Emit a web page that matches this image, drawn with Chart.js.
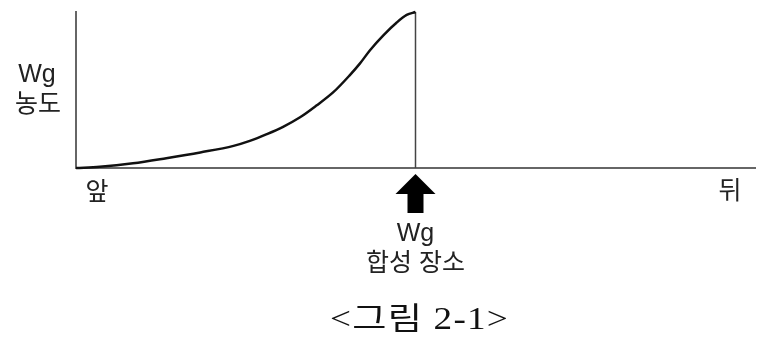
<!DOCTYPE html>
<html>
<head>
<meta charset="utf-8">
<script src="https://cdn.jsdelivr.net/npm/chart.js@4/dist/chart.umd.min.js"></script>
<style>
    html, body { margin: 0; padding: 0; background: #fff; }
    #wrap { width: 761px; height: 341px; position: relative; }
</style>
</head>
<body>
<div id="wrap"><canvas id="wg-chart" width="761" height="341"></canvas></div>
<script>
// position along the embryo (0 = 앞, 100 = 뒤) and Wg concentration
const curveX = [0, 3.5, 8.4, 13.3, 18.3, 23.2, 25.6, 28.1, 30.5, 33.0, 35.4, 37.9, 40.3, 41.8, 43.3, 45.3, 47.2, 48.7, 50];
const curveY = [0, 0.8, 3.0, 6.3, 10.0, 14.2, 17.4, 21.7, 26.4, 32.5, 40.0, 48.6, 59.4, 66.9, 75.5, 85.2, 93.1, 98.1, 100];
// sharp drop at the synthesis site
const dropX = [50, 50];
const dropY = [100, 0];
const siteX = 50;

const yLabel = ['Wg', '농도'];
const frontLabel = '앞';
const backLabel = '뒤';
const siteLabel = ['Wg', '합성 장소'];
const caption = '<그림 2-1>';

const sans = '"Liberation Sans", "Noto Sans CJK KR", sans-serif';
const serif = '"Liberation Serif", "Noto Sans CJK KR", serif';

function toPoints(xs, ys) {
    var pts = [];
    for (let i = 0; i < xs.length; i++) {
        pts.push({ x: xs[i], y: ys[i] });
    }
    return pts;
}

const labelsPlugin = {
    id: 'labels',
    afterDraw(chart) {
        const ctx = chart.ctx;
        const area = chart.chartArea;
        const xs = chart.scales.x;
        ctx.save();
        ctx.fillStyle = '#222';
        ctx.textAlign = 'center';
        ctx.textBaseline = 'middle';
        ctx.font = '25px ' + sans;

        // y axis label
        ctx.fillText(yLabel[0], 37, 75);
        ctx.fillText(yLabel[1], 38, 105);

        // ends of the axis
        ctx.fillText(frontLabel, xs.getPixelForValue(3.1), 193);
        ctx.fillText(backLabel, xs.getPixelForValue(96.3), 192);

        // arrow pointing at the synthesis site
        const ax = xs.getPixelForValue(siteX);
        const top = area.bottom + 6;
        ctx.fillStyle = '#000';
        ctx.beginPath();
        ctx.moveTo(ax, top);
        ctx.lineTo(ax + 20, top + 20);
        ctx.lineTo(ax + 8, top + 20);
        ctx.lineTo(ax + 8, top + 39);
        ctx.lineTo(ax - 8, top + 39);
        ctx.lineTo(ax - 8, top + 20);
        ctx.lineTo(ax - 20, top + 20);
        ctx.closePath();
        ctx.fill();

        ctx.fillStyle = '#222';
        ctx.fillText(siteLabel[0], ax, 234);
        ctx.fillText(siteLabel[1], ax, 264);

        // figure caption, stretched a bit like the wide serif original
        ctx.translate(ax + 4, 321);
        ctx.scale(1.2, 1);
        ctx.font = '31px ' + serif;
        ctx.letterSpacing = '1px';
        ctx.fillStyle = '#111';
        ctx.fillText(caption, 0, 0);
        ctx.restore();
    }
};

const ctx = document.getElementById('wg-chart').getContext('2d');
window.wgChart = new Chart(ctx, {
    type: 'line',
    data: {
        datasets: [{
            label: 'Wg 농도',
            data: toPoints(curveX, curveY),
            borderColor: '#111',
            borderWidth: 2.5,
            pointRadius: 0,
            cubicInterpolationMode: 'monotone',
            fill: false,
            clip: false
        }, {
            label: 'drop',
            data: toPoints(dropX, dropY),
            borderColor: '#444',
            borderWidth: 1.5,
            pointRadius: 0,
            tension: 0,
            fill: false,
            clip: false
        }]
    },
    options: {
        responsive: false,
        animation: false,
        layout: {
            padding: { left: 68, right: 6, top: 12, bottom: 165 }
        },
        scales: {
            x: {
                type: 'linear',
                min: 0,
                max: 100,
                grid: { display: false },
                ticks: { display: false },
                border: { display: true, color: '#666', width: 2 }
            },
            y: {
                type: 'linear',
                min: 0,
                max: 100,
                grid: { display: false },
                ticks: { display: false },
                border: { display: true, color: '#666', width: 2 }
            }
        },
        plugins: {
            legend: { display: false },
            tooltip: { enabled: false }
        }
    },
    plugins: [labelsPlugin]
});
</script>
</body>
</html>
